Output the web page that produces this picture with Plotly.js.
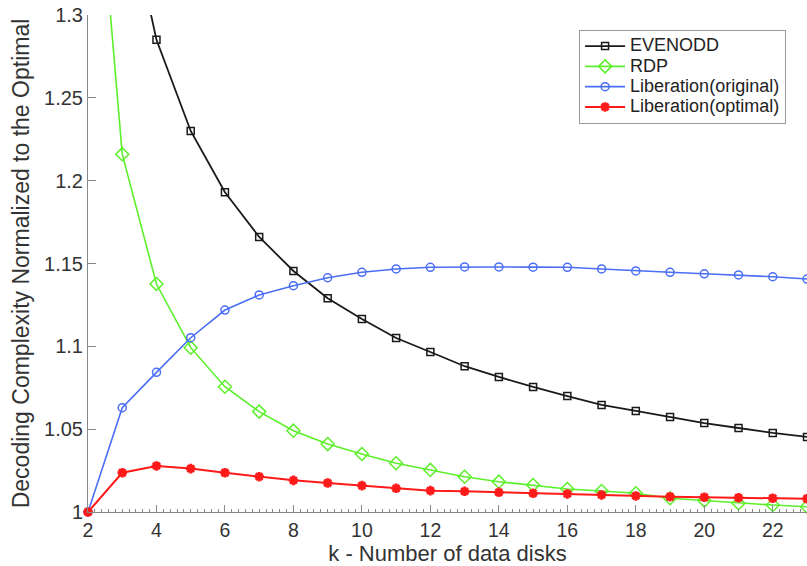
<!DOCTYPE html>
<html>
<head>
<meta charset="utf-8">
<script src="https://cdn.plot.ly/plotly-3.0.1.min.js"></script>
<style>html,body{margin:0;padding:0;background:#fff;}#chart{width:807px;height:566px;}</style>
</head>
<body>
<div id="chart"></div>
<script>
var k = [2,3,4,5,6,7,8,9,10,11,12,13,14,15,16,17,18,19,20,21,22,23];
var evenodd = [1.57,1.38,1.285,1.230,1.193,1.166,1.1455,1.129,1.1165,1.105,1.0966,1.088,1.0815,1.0755,1.070,1.0646,1.061,1.0574,1.0537,1.0507,1.0477,1.0453];
var rdp = [1.46,1.216,1.1376,1.0992,1.0756,1.0606,1.0491,1.041,1.035,1.0294,1.0254,1.0213,1.0183,1.0163,1.0139,1.0127,1.0113,1.0083,1.0069,1.0053,1.0042,1.0032];
var libOriginal = [1.0,1.063,1.0843,1.1052,1.1219,1.131,1.1366,1.1414,1.1447,1.1467,1.1477,1.1479,1.1479,1.1478,1.1477,1.1467,1.1455,1.1447,1.1438,1.1431,1.142,1.1406];
var libOptimal = [1.0,1.0237,1.0278,1.0262,1.0237,1.0213,1.0191,1.0175,1.0159,1.0143,1.0129,1.0125,1.0119,1.0113,1.0109,1.0103,1.0097,1.0092,1.0089,1.0086,1.0083,1.008];
var names = ['EVENODD','RDP','Liberation(original)','Liberation(optimal)'];

var FONT = 'Liberation Sans, Arial, Helvetica, sans-serif';
function nm(s){ return '<span style="font-size:18px">' + s + '</span>'; }

var traces = [
  {x:k, y:evenodd, name:nm(names[0]), mode:'lines+markers', cliponaxis:false,
   line:{color:'#1a1a1a', width:1.8},
   marker:{symbol:'square-open', size:7, color:'#1a1a1a', line:{width:1.5, color:'#1a1a1a'}}},
  {x:k, y:rdp, name:nm(names[1]), mode:'lines+markers', cliponaxis:false,
   line:{color:'#5cf02a', width:1.6},
   marker:{symbol:'diamond-open', size:10, color:'#5cf02a', line:{width:1.5, color:'#5cf02a'}}},
  {x:k, y:libOriginal, name:nm(names[2]), mode:'lines+markers', cliponaxis:false,
   line:{color:'#4b6ef5', width:1.6},
   marker:{symbol:'circle-open', size:8, color:'#4b6ef5', line:{width:1.5, color:'#4b6ef5'}}},
  {x:k, y:libOptimal, name:nm(names[3]), mode:'lines+markers', cliponaxis:false,
   line:{color:'#ff1a1a', width:2},
   marker:{symbol:'asterisk-open', size:8, color:'#ff1a1a', line:{width:2.8, color:'#ff1a1a'}}}
];

var layout = {
  width:807, height:566,
  margin:{l:88, r:0, t:15, b:54},
  paper_bgcolor:'#fff', plot_bgcolor:'#fff',
  font:{family:FONT, color:'#333', size:20},
  showlegend:true,
  legend:{x:0.683, y:0.970, xanchor:'left', yanchor:'top',
          bgcolor:'#fff', bordercolor:'#999', borderwidth:1,
          font:{family:FONT, size:13.3, color:'#222'}, itemwidth:40},
  xaxis:{range:[2,23], tick0:2, dtick:2, ticks:'inside', ticklen:7, tickwidth:1,
         tickcolor:'#888', showline:true, linecolor:'#888', linewidth:1,
         showgrid:false, zeroline:false, ticklabelstandoff:1,
         minor:{dtick:0.2, ticks:'inside', ticklen:3.5, tickcolor:'#888', showgrid:false},
         tickfont:{family:FONT, size:19.5, color:'#333'},
         title:{text:'k - Number of data disks', font:{family:FONT, size:22, color:'#333'}, standoff:4}},
  yaxis:{range:[1,1.3], tick0:1, dtick:0.05, ticks:'inside', ticklen:8, tickwidth:1,
         tickcolor:'#888', showline:true, linecolor:'#888', linewidth:1,
         showgrid:false, zeroline:false,
         tickfont:{family:FONT, size:20, color:'#333'},
         title:{text:'Decoding Complexity Normalized to the Optimal', font:{family:FONT, size:23, color:'#333'}, standoff:8}}
};

Plotly.newPlot('chart', traces, layout, {displayModeBar:false, staticPlot:true});
</script>
</body>
</html>
